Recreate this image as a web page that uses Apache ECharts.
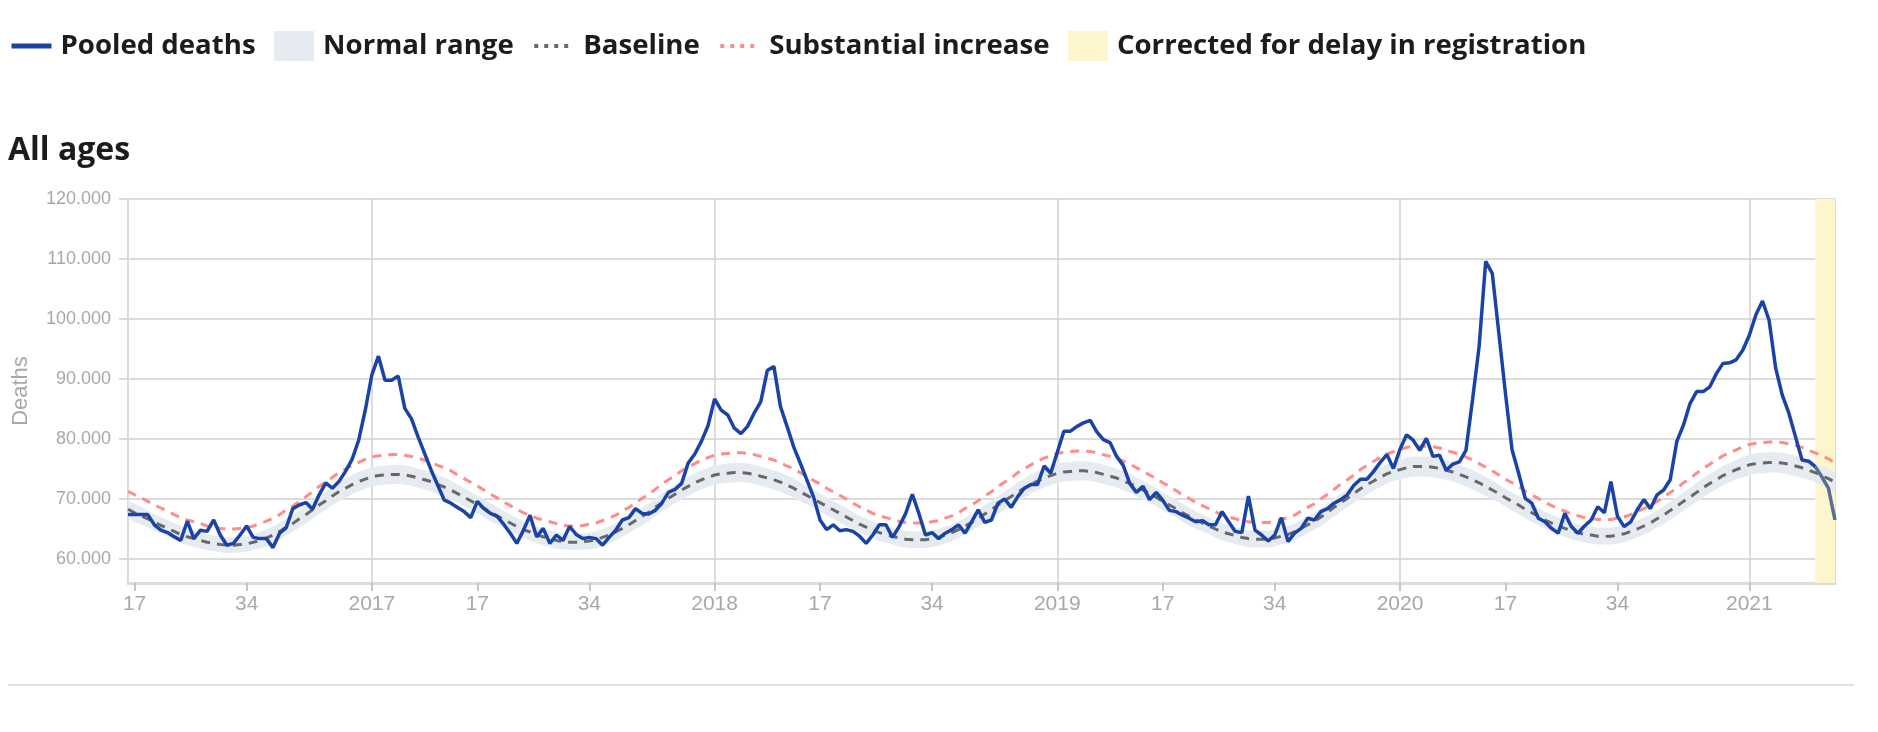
<!DOCTYPE html>
<html>
<head>
<meta charset="utf-8">
<script src="https://cdn.jsdelivr.net/npm/echarts@6/dist/echarts.min.js"></script>
<style>
html,body{margin:0;padding:0;background:#fff;}
#chart{width:1878px;height:732px;}
</style>
</head>
<body>
<div id="chart"></div>
<script>
// ---- Week span of the chart: [year, first ISO week, last ISO week] ----
const weekSpans = [[2016,16,52],[2017,1,52],[2018,1,52],[2019,1,52],[2020,1,53],[2021,1,14]];
// week numbers that carry a tick label (week 1 shows the year)
const labelWeeks = [1, 17, 34];
// first week of the "corrected for delay in registration" window
const correctedFrom = '2021-W11';

// ---- Values in thousands of deaths, one per week ----
const deaths = [
67.4,67.4,67.4,67.4,65.7,64.8,64.4,63.7,63.1,66.3,
63.4,64.8,64.6,66.5,64.0,62.3,62.6,64.0,65.5,63.6,
63.4,63.4,61.9,64.3,65.2,68.4,69.0,69.4,68.3,70.7,
72.7,71.8,72.9,74.6,76.6,79.8,84.8,90.7,93.8,89.8,
89.8,90.5,85.1,83.4,80.4,77.6,74.8,72.3,69.8,69.3,
68.6,67.9,66.9,69.6,68.4,67.6,67.1,65.8,64.3,62.6,
64.8,67.3,63.7,65.1,62.6,64.0,63.1,65.4,64.1,63.4,
63.6,63.4,62.3,63.6,64.8,66.5,66.9,68.4,67.6,67.5,
68.1,69.3,71.1,71.6,72.6,76.0,77.5,79.6,82.2,86.7,
84.8,84.0,81.8,80.9,82.1,84.3,86.2,91.4,92.1,85.4,
82.1,78.7,76.0,73.2,70.4,66.5,64.9,65.7,64.7,64.9,
64.6,63.8,62.6,64.0,65.7,65.7,63.6,65.4,67.6,70.8,
67.6,64.0,64.4,63.4,64.3,64.9,65.7,64.3,66.2,68.2,
66.1,66.5,69.3,70.0,68.6,70.4,71.8,72.4,72.4,75.5,
74.3,77.8,81.3,81.3,82.1,82.7,83.1,81.2,79.9,79.4,
77.1,75.6,72.6,71.1,72.1,69.9,71.1,69.8,68.1,67.9,
67.3,66.8,66.2,66.4,65.7,65.7,67.9,66.2,64.6,64.4,
70.5,64.8,64.0,63.0,64.0,66.9,62.9,64.3,65.1,66.8,
66.5,67.9,68.4,69.3,69.9,70.7,72.3,73.3,73.3,74.6,
76.1,77.4,75.1,78.3,80.7,79.8,78.1,80.1,77.1,77.3,
74.8,75.8,76.2,78.1,86.5,95.4,109.6,107.6,97.6,87.6,
78.2,74.3,70.1,69.3,66.8,66.2,65.1,64.3,67.6,65.4,
64.3,65.5,66.5,68.7,67.7,72.9,67.1,65.4,66.2,68.2,
69.9,68.4,70.7,71.5,73.2,79.6,82.3,85.9,87.9,87.9,
88.7,90.9,92.6,92.7,93.2,94.8,97.3,100.7,103.0,99.8,
91.8,87.3,84.3,80.4,76.5,76.3,75.4,73.7,71.8,66.5
];
const baseline = [
68.3,67.7,67.2,66.7,66.1,65.6,65.1,64.6,64.1,63.7,
63.4,63.1,62.8,62.6,62.4,62.3,62.3,62.4,62.5,62.8,
63.1,63.5,64.0,64.6,65.3,65.9,66.7,67.4,68.2,69.0,
69.7,70.5,71.2,71.8,72.4,72.9,73.3,73.7,73.9,74.0,
74.1,74.1,74.0,73.8,73.5,73.2,72.9,72.4,72.0,71.5,
70.9,70.3,69.7,69.1,68.5,67.8,67.2,66.6,66.0,65.4,
64.9,64.5,64.0,63.7,63.4,63.1,62.9,62.8,62.8,62.9,
63.0,63.2,63.6,64.0,64.5,65.1,65.7,66.4,67.1,67.8,
68.6,69.4,70.1,70.8,71.5,72.1,72.7,73.2,73.6,74.0,
74.2,74.3,74.4,74.4,74.3,74.1,73.8,73.5,73.2,72.8,
72.3,71.8,71.2,70.6,70.0,69.4,68.8,68.2,67.6,67.0,
66.4,65.8,65.3,64.8,64.4,64.1,63.8,63.5,63.3,63.2,
63.2,63.2,63.4,63.6,64.0,64.4,64.9,65.5,66.1,66.8,
67.5,68.2,69.0,69.7,70.4,71.2,71.8,72.5,73.0,73.5,
73.9,74.3,74.5,74.6,74.7,74.7,74.6,74.4,74.1,73.8,
73.5,73.0,72.6,72.0,71.5,70.9,70.3,69.6,69.0,68.4,
67.7,67.1,66.5,66.0,65.5,65.0,64.5,64.2,63.9,63.6,
63.4,63.3,63.3,63.3,63.5,63.8,64.1,64.5,65.1,65.7,
66.3,67.0,67.8,68.6,69.4,70.1,70.9,71.7,72.4,73.0,
73.6,74.2,74.6,74.9,75.2,75.4,75.4,75.4,75.3,75.1,
74.8,74.5,74.1,73.7,73.2,72.7,72.1,71.5,70.9,70.2,
69.6,69.0,68.3,67.7,67.1,66.5,66.0,65.5,65.1,64.7,
64.4,64.1,64.0,63.8,63.8,63.8,64.0,64.2,64.6,65.0,
65.5,66.0,66.7,67.3,68.1,68.8,69.6,70.3,71.1,71.9,
72.6,73.2,73.9,74.4,74.9,75.3,75.7,75.9,76.0,76.1,
76.1,76.0,75.8,75.5,75.2,74.8,74.4,73.9,73.4,72.8
];
const substantial = [
71.3,70.7,70.2,69.6,69.0,68.5,68.0,67.4,66.9,66.5,
66.2,65.9,65.5,65.3,65.1,65.0,65.0,65.1,65.2,65.5,
65.9,66.3,66.8,67.4,68.2,68.8,69.6,70.4,71.2,72.1,
72.8,73.6,74.4,75.0,75.6,76.1,76.6,77.0,77.2,77.3,
77.4,77.4,77.3,77.1,76.8,76.5,76.1,75.6,75.2,74.7,
74.0,73.4,72.8,72.2,71.5,70.8,70.2,69.5,68.9,68.3,
67.7,67.3,66.8,66.5,66.2,65.9,65.6,65.5,65.5,65.6,
65.8,66.0,66.4,66.8,67.3,68.0,68.6,69.3,70.1,70.8,
71.6,72.5,73.2,73.9,74.7,75.3,75.9,76.5,76.9,77.3,
77.5,77.6,77.7,77.7,77.6,77.4,77.1,76.8,76.5,76.0,
75.5,75.0,74.4,73.7,73.1,72.5,71.8,71.2,70.6,70.0,
69.3,68.7,68.2,67.6,67.2,66.9,66.6,66.3,66.1,66.0,
66.0,66.0,66.2,66.4,66.8,67.2,67.7,68.4,69.0,69.7,
70.5,71.2,72.1,72.8,73.5,74.4,75.0,75.7,76.3,76.8,
77.2,77.6,77.8,77.9,78.0,78.0,77.9,77.7,77.4,77.1,
76.8,76.3,75.8,75.2,74.7,74.0,73.4,72.7,72.1,71.4,
70.7,70.1,69.4,68.9,68.4,67.9,67.3,67.0,66.7,66.4,
66.2,66.1,66.1,66.1,66.3,66.6,66.9,67.3,68.0,68.6,
69.2,70.0,70.8,71.6,72.5,73.2,74.0,74.9,75.6,76.3,
76.9,77.5,77.9,78.2,78.6,78.8,78.8,78.8,78.7,78.5,
78.1,77.8,77.4,77.0,76.5,75.9,75.3,74.7,74.0,73.3,
72.7,72.1,71.3,70.7,70.1,69.4,68.9,68.4,68.0,67.5,
67.2,66.9,66.8,66.6,66.6,66.6,66.8,67.0,67.4,67.9,
68.4,68.9,69.6,70.3,71.1,71.8,72.7,73.4,74.3,75.1,
75.8,76.5,77.2,77.7,78.2,78.7,79.1,79.3,79.4,79.5,
79.5,79.4,79.2,78.9,78.6,78.1,77.7,77.2,76.7,76.0
];
const normalLow = [
66.8,66.2,65.7,65.3,64.7,64.2,63.7,63.2,62.7,62.3,
62.0,61.7,61.5,61.3,61.1,61.0,61.0,61.1,61.2,61.5,
61.7,62.1,62.6,63.2,63.9,64.5,65.3,65.9,66.7,67.5,
68.2,69.0,69.6,70.2,70.8,71.3,71.7,72.1,72.3,72.4,
72.5,72.5,72.4,72.2,71.9,71.6,71.3,70.8,70.4,69.9,
69.4,68.8,68.2,67.6,67.0,66.3,65.7,65.2,64.6,64.0,
63.5,63.1,62.6,62.3,62.0,61.7,61.6,61.5,61.5,61.6,
61.6,61.8,62.2,62.6,63.1,63.7,64.3,65.0,65.6,66.3,
67.1,67.9,68.6,69.3,69.9,70.5,71.1,71.6,72.0,72.4,
72.6,72.7,72.8,72.8,72.7,72.5,72.2,71.9,71.6,71.2,
70.7,70.2,69.6,69.1,68.5,67.9,67.3,66.7,66.1,65.5,
65.0,64.4,63.9,63.4,63.0,62.7,62.4,62.1,61.9,61.8,
61.8,61.8,62.0,62.2,62.6,63.0,63.5,64.1,64.7,65.4,
66.0,66.7,67.5,68.2,68.9,69.6,70.2,70.9,71.4,71.9,
72.3,72.7,72.9,73.0,73.1,73.1,73.0,72.8,72.5,72.2,
71.9,71.4,71.0,70.4,69.9,69.4,68.8,68.1,67.5,66.9,
66.2,65.6,65.1,64.6,64.1,63.6,63.1,62.8,62.5,62.2,
62.0,61.9,61.9,61.9,62.1,62.4,62.7,63.1,63.7,64.3,
64.9,65.5,66.3,67.1,67.9,68.6,69.4,70.1,70.8,71.4,
72.0,72.6,73.0,73.3,73.5,73.7,73.7,73.7,73.6,73.4,
73.2,72.9,72.5,72.1,71.6,71.1,70.5,69.9,69.4,68.7,
68.1,67.5,66.8,66.2,65.6,65.1,64.6,64.1,63.7,63.3,
63.0,62.7,62.6,62.4,62.4,62.4,62.6,62.8,63.2,63.6,
64.1,64.6,65.3,65.8,66.6,67.3,68.1,68.8,69.5,70.3,
71.0,71.6,72.3,72.8,73.3,73.6,74.0,74.2,74.3,74.4,
74.4,74.3,74.1,73.8,73.5,73.2,72.8,72.3,71.8,71.2
];
const normalHigh = [
69.8,69.2,68.7,68.1,67.5,67.0,66.5,66.0,65.5,65.1,
64.8,64.5,64.1,63.9,63.7,63.6,63.6,63.7,63.8,64.1,
64.5,64.9,65.4,66.0,66.7,67.3,68.1,68.9,69.7,70.5,
71.2,72.0,72.8,73.4,74.0,74.5,74.9,75.3,75.5,75.6,
75.7,75.7,75.6,75.4,75.1,74.8,74.5,74.0,73.6,73.1,
72.4,71.8,71.2,70.6,70.0,69.3,68.7,68.0,67.4,66.8,
66.3,65.9,65.4,65.1,64.8,64.5,64.2,64.1,64.1,64.2,
64.4,64.6,65.0,65.4,65.9,66.5,67.1,67.8,68.6,69.3,
70.1,70.9,71.6,72.3,73.1,73.7,74.3,74.8,75.2,75.6,
75.8,75.9,76.0,76.0,75.9,75.7,75.4,75.1,74.8,74.4,
73.9,73.4,72.8,72.1,71.5,70.9,70.3,69.7,69.1,68.5,
67.8,67.2,66.7,66.2,65.8,65.5,65.2,64.9,64.7,64.6,
64.6,64.6,64.8,65.0,65.4,65.8,66.3,66.9,67.5,68.2,
69.0,69.7,70.5,71.2,71.9,72.8,73.4,74.1,74.6,75.1,
75.5,75.9,76.1,76.2,76.3,76.3,76.2,76.0,75.7,75.4,
75.1,74.6,74.2,73.6,73.1,72.4,71.8,71.1,70.5,69.9,
69.2,68.6,67.9,67.4,66.9,66.4,65.9,65.6,65.3,65.0,
64.8,64.7,64.7,64.7,64.9,65.2,65.5,65.9,66.5,67.1,
67.7,68.5,69.3,70.1,70.9,71.6,72.4,73.3,74.0,74.6,
75.2,75.8,76.2,76.5,76.9,77.1,77.1,77.1,77.0,76.8,
76.4,76.1,75.7,75.3,74.8,74.3,73.7,73.1,72.4,71.7,
71.1,70.5,69.8,69.2,68.6,67.9,67.4,66.9,66.5,66.1,
65.8,65.5,65.4,65.2,65.2,65.2,65.4,65.6,66.0,66.4,
66.9,67.4,68.1,68.8,69.6,70.3,71.1,71.8,72.7,73.5,
74.2,74.8,75.5,76.0,76.5,77.0,77.4,77.6,77.7,77.8,
77.8,77.7,77.5,77.2,76.9,76.4,76.0,75.5,75.0,74.4
];

// ---- Category axis (ISO year-week) ----
const categories = [];
weekSpans.forEach(([y, a, b]) => {
  for (let w = a; w <= b; w++) categories.push(y + '-W' + String(w).padStart(2, '0'));
});
const weekOf = v => +String(v).split('-W')[1];
const yearOf = v => String(v).split('-W')[0];
const isLabelWeek = (i, v) => labelWeeks.indexOf(weekOf(v)) >= 0;
const isYearStart = (i, v) => weekOf(v) === 1;
const corrIdx = categories.indexOf(correctedFrom);
const lastIdx = categories.length - 1;
const fmtThousands = v => String(Math.round(v * 1000)).replace(/\B(?=(\d{3})+(?!\d))/g, '.');

const pooledData = deaths.map((v, i) => (i <= corrIdx ? v : null));
const correctedData = deaths.map((v, i) => (i >= corrIdx ? v : null));
const bandWidth = normalHigh.map((h, i) => +(h - normalLow[i]).toFixed(2));

const AXIS_FONT = 'Liberation Sans, Arial, sans-serif';
const UI_FONT = 'Open Sans, Lato, sans-serif';
const hiddenSymbol = { opacity: 0 };

const chart = echarts.init(document.getElementById('chart'));
chart.setOption({
  animation: false,
  backgroundColor: '#ffffff',
  title: {
    text: 'All ages', left: 3, top: 130,
    textStyle: { fontFamily: UI_FONT, fontWeight: 700, fontSize: 32, color: '#1c1c1c' }
  },
  legend: {
    left: 4, top: 26, itemWidth: 40, itemHeight: 30, itemGap: 18.5,
    textStyle: { fontFamily: UI_FONT, fontWeight: 700, fontSize: 27.6, color: '#1c1c1c', padding: [0, 0, 0, 4] },
    data: [
      { name: 'Pooled deaths', lineStyle: { width: 5 }, itemStyle: hiddenSymbol },
      { name: 'Normal range', icon: 'rect', itemStyle: { color: '#e6ebf1', borderWidth: 0, opacity: 1 } },
      { name: 'Baseline', lineStyle: { width: 4, type: [4, 6] }, itemStyle: hiddenSymbol },
      { name: 'Substantial increase', lineStyle: { width: 4, type: [4, 6] }, itemStyle: hiddenSymbol },
      { name: 'Corrected for delay in registration', icon: 'rect', itemStyle: { color: '#fdf5cc', borderWidth: 0, opacity: 1 } }
    ]
  },
  grid: { left: 128, right: 43, top: 199, bottom: 149, show: true, borderColor: '#dcdcdc', borderWidth: 2, outerBoundsMode: 'none', containLabel: false },
  xAxis: {
    type: 'category', data: categories, boundaryGap: false,
    axisLine: { lineStyle: { color: '#dcdcdc', width: 3 } },
    axisTick: { interval: isLabelWeek, length: 8, lineStyle: { color: '#b5b5b5', width: 1.5 } },
    axisLabel: { interval: isLabelWeek, formatter: v => (weekOf(v) === 1 ? yearOf(v) : String(weekOf(v))),
      color: '#a8a8a8', fontSize: 21, fontFamily: AXIS_FONT, margin: 11 },
    splitLine: { show: true, interval: isYearStart, lineStyle: { color: '#d2d2d2', width: 1.5 } }
  },
  yAxis: {
    type: 'value', min: 56, max: 120,
    name: 'Deaths', nameLocation: 'middle', nameGap: 96,
    nameTextStyle: { color: '#a8a8a8', fontSize: 22, fontFamily: AXIS_FONT },
    axisLine: { show: true, lineStyle: { color: '#dcdcdc', width: 2 } },
    axisTick: { show: true, length: 9, lineStyle: { color: '#cfcfcf', width: 1.5 } },
    axisLabel: { showMinLabel: false, formatter: fmtThousands, color: '#a8a8a8', fontSize: 18, fontFamily: AXIS_FONT, margin: 17 },
    splitLine: { lineStyle: { color: '#dcdcdc', width: 2 } }
  },
  series: [
    { name: 'normal-low', type: 'line', data: normalLow, stack: 'band', symbol: 'none', silent: true,
      lineStyle: { opacity: 0 }, z: 2 },
    { name: 'Normal range', type: 'line', data: bandWidth, stack: 'band', symbol: 'none', silent: true,
      lineStyle: { opacity: 0 }, areaStyle: { color: '#e6ebf1', opacity: 1 }, z: 2 },
    { name: 'Baseline', type: 'line', data: baseline, symbol: 'none', silent: true,
      lineStyle: { color: '#686868', width: 3, type: [9, 7] }, itemStyle: { color: '#686868' }, z: 3 },
    { name: 'Substantial increase', type: 'line', data: substantial, symbol: 'none', silent: true,
      lineStyle: { color: '#ff8b8b', width: 3, type: [9, 7] }, itemStyle: { color: '#ff8b8b' }, z: 3 },
    { name: 'Corrected for delay in registration', type: 'line', data: correctedData, symbol: 'none', silent: true,
      lineStyle: { color: '#56708f', width: 3.5 }, itemStyle: { color: '#56708f' }, z: 4,
      markArea: { silent: true, itemStyle: { color: '#fdf5cc' },
        data: [[{ xAxis: categories[corrIdx] }, { xAxis: categories[lastIdx] }]] } },
    { name: 'Pooled deaths', type: 'line', data: pooledData, symbol: 'none', silent: true,
      lineStyle: { color: '#1a43a8', width: 3.5 }, itemStyle: { color: '#1a43a8' }, z: 5 }
  ],
  graphic: [
    { type: 'line', shape: { x1: 8, y1: 685, x2: 1854, y2: 685 }, style: { stroke: '#e0e0e0', lineWidth: 2 } }
  ]
});
</script>
</body>
</html>
